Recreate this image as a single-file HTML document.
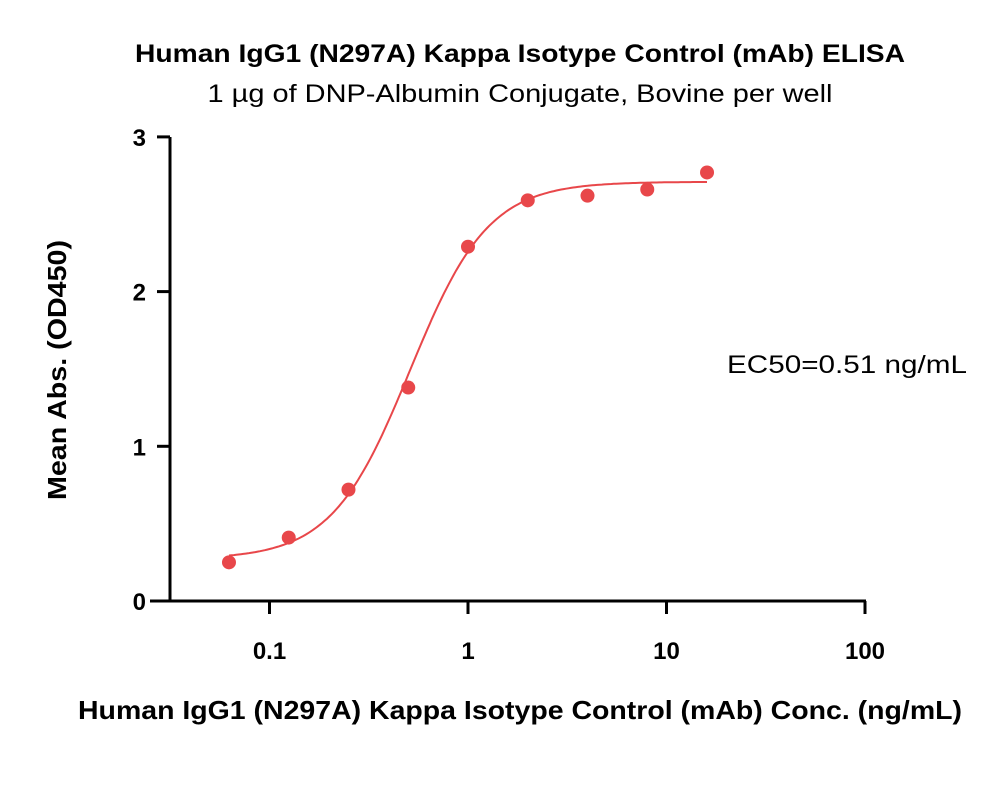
<!DOCTYPE html>
<html><head><meta charset="utf-8"><style>
body{margin:0;background:#fff}
svg text{font-family:"Liberation Sans","DejaVu Sans",sans-serif}
</style></head><body>
<svg id="chart" width="1000" height="799" viewBox="0 0 1000 799">
<text x="520" y="62" text-anchor="middle" font-size="25" font-weight="bold" textLength="770" lengthAdjust="spacingAndGlyphs">Human IgG1 (N297A) Kappa Isotype Control (mAb) ELISA</text>
<text x="520" y="102" text-anchor="middle" font-size="25" textLength="625" lengthAdjust="spacingAndGlyphs">1 µg of DNP-Albumin Conjugate, Bovine per well</text>
<text transform="translate(66,370) rotate(-90)" text-anchor="middle" font-size="26" font-weight="bold" textLength="260" lengthAdjust="spacingAndGlyphs">Mean Abs. (OD450)</text>
<text x="520" y="719" text-anchor="middle" font-size="26" font-weight="bold" textLength="884" lengthAdjust="spacingAndGlyphs">Human IgG1 (N297A) Kappa Isotype Control (mAb) Conc. (ng/mL)</text>
<text x="847" y="373" text-anchor="middle" font-size="25" textLength="240" lengthAdjust="spacingAndGlyphs">EC50=0.51 ng/mL</text>
<g id="axes"></g><g id="curve"></g><g id="points"></g>
</svg>
<script>
const xTicks=[0.1,1,10,100];
const xTickLabels=["0.1","1","10","100"];
const yTicks=[0,1,2,3];
const yTickLabels=["0","1","2","3"];
const concentrations=[0.0625,0.125,0.25,0.5,1,2,4,8,16];
const absorbance=[0.25,0.41,0.72,1.38,2.29,2.59,2.62,2.66,2.77];
const fitBottom=0.27, fitTop=2.71, fitEC50=0.51, fitHill=2.2;
const NS="http://www.w3.org/2000/svg";
function xS(v){return 468+Math.log10(v)*198.5;}
function yS(v){return 601-v*154.7;}
function mk(tag,attrs,parent){const e=document.createElementNS(NS,tag);for(const k in attrs)e.setAttribute(k,attrs[k]);parent.appendChild(e);return e;}
const axes=document.getElementById('axes');
let l=mk('line',{x1:150,y1:601,x2:866,y2:601,stroke:'#000','stroke-width':3},axes);


l=mk('line',{x1:170,y1:137,x2:170,y2:602,stroke:'#000','stroke-width':3},axes);


xTicks.forEach((t,i)=>{
 const x=xS(t);
 const tk=mk('line',{x1:x,y1:601,x2:x,y2:614,stroke:'#000','stroke-width':3},axes);
 
 
 const tx=mk('text',{x:x,y:659,'text-anchor':'middle','font-size':24,'font-weight':'bold'},axes);
 tx.textContent=xTickLabels[i];
 
 
});
yTicks.forEach((t,i)=>{
 const y=yS(t);
 const tk=mk('line',{x1:157,y1:y,x2:170,y2:y,stroke:'#000','stroke-width':3},axes);
 
 
 const tx=mk('text',{x:146,y:y+9,'text-anchor':'end','font-size':24,'font-weight':'bold'},axes);
 tx.textContent=yTickLabels[i];
 
 
});
let d='';
const lo=Math.log10(concentrations[0]),hi=Math.log10(concentrations[concentrations.length-1]);
for(let i=0;i<=200;i++){const lx=lo+(hi-lo)*i/200;const c=Math.pow(10,lx);
 const v=fitBottom+(fitTop-fitBottom)/(1+Math.pow(fitEC50/c,fitHill));
 d+=(i?'L':'M')+xS(c).toFixed(1)+' '+yS(v).toFixed(1);}
const p=mk('path',{d:d,fill:'none',stroke:'#e8474a','stroke-width':2},document.getElementById('curve'));


concentrations.forEach((c,i)=>{
 const pt=mk('circle',{cx:xS(c),cy:yS(absorbance[i]),r:7,fill:'#e8474a'},document.getElementById('points'));
 
 
});
</script>
</body></html>
